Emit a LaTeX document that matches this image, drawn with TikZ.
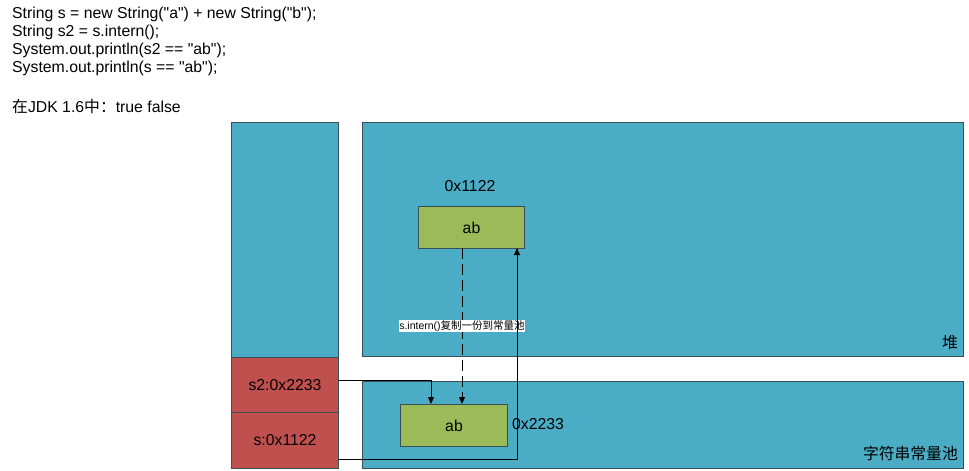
\documentclass[tikz,border=0pt]{standalone}
\usepackage{fontspec}
\setmainfont{Liberation Sans}[Ligatures=TeXOff]
\newfontfamily\cjk{Noto Sans CJK SC}
\usetikzlibrary{arrows.meta}
\definecolor{blu}{HTML}{4BACC6}
\definecolor{redb}{HTML}{C0504D}
\definecolor{grn}{HTML}{9BBB59}
\definecolor{edge}{HTML}{3A4F55}
\begin{document}
\begin{tikzpicture}[x=1pt,y=-1pt,
  area/.style={draw=edge,fill=blu,line width=1pt},
  ref/.style={draw=edge,fill=redb,line width=1pt},
  obj/.style={draw=edge,fill=grn,line width=1pt},
  txt/.style={font=\fontsize{15.8}{18}\selectfont,inner sep=0pt},
  conn/.style={line width=0.9pt,-{Triangle[length=7pt,width=6pt]}}]
\useasboundingbox (0,0) rectangle (969,471);
% code text
\node[txt,anchor=west] (l1) at (12,14) {String s = new String("a") + new String("b");};
\node[txt,anchor=west] (l2) at (12,32) {String s2 = s.intern();};
\node[txt,anchor=west] (l3) at (12,50) {System.out.println(s2 == "ab");};
\node[txt,anchor=west] (l4) at (12,68) {System.out.println(s == "ab");};
\node[txt,anchor=west] (l5) at (12,106) {{\cjk 在}JDK 1.6{\cjk 中：}true false};
% stack
\path[area] (231,122) rectangle (338,357);
\node[ref,minimum width=107pt,minimum height=55pt,inner sep=0pt,anchor=north west,txt] (s2) at (231,357) {s2:0x2233};
\node[ref,minimum width=107pt,minimum height=56pt,inner sep=0pt,anchor=north west,txt] (s) at (231,412) {s:0x1122};
% heap and pool
\node[area,minimum width=601pt,minimum height=234pt,anchor=north west] (heap) at (362,122) {};
\node[area,minimum width=601pt,minimum height=87pt,anchor=north west] (pool) at (362,381) {};
\node[txt,anchor=south east,font=\cjk\fontsize{15.8}{18}\selectfont] (heapl) at (958,350) {堆};
\node[txt,anchor=south east,font=\cjk\fontsize{15.8}{18}\selectfont] (pooll) at (958,461) {字符串常量池};
% objects
\node[obj,txt,minimum width=106pt,minimum height=42pt,anchor=north west] (ab1) at (418,206) {ab};
\node[txt] (a1l) at (470,186) {0x1122};
\node[obj,txt,minimum width=107pt,minimum height=42pt,anchor=north west] (ab2) at (400,404) {ab};
\node[txt,anchor=west] (a2l) at (512,424) {0x2233};
% connectors
\coordinate (dtop) at (462,248);
\coordinate (dbot) at (462,404);
\draw[conn,dash pattern=on 11pt off 5pt] (dtop) -- node[fill=white,inner sep=0.6pt,font=\fontsize{10.5}{12}\selectfont] (lab) {s.intern(){\cjk 复制一份到常量池}} (dbot);
\draw[conn] (s2.east |- 0,380) -| (431,404);
\draw[conn] (s.east |- 0,459) -| (517,248);
\end{tikzpicture}
\end{document}
